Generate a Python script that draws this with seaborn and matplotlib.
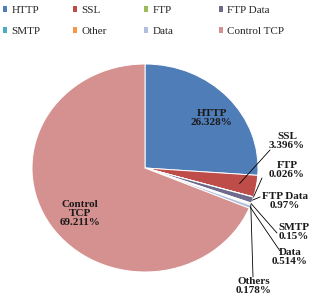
import numpy as np
import matplotlib
matplotlib.use("Agg")
import matplotlib.pyplot as plt
import seaborn as sns

sns.set_style("white")
plt.rcParams['font.family'] = ['Liberation Serif', 'DejaVu Serif']

# data
protocols = ["HTTP", "SSL", "FTP", "FTP Data", "SMTP", "Other", "Data", "Control TCP"]
shares = [26.328, 3.396, 0.026, 0.97, 0.15, 0.178, 0.514, 69.211]
share_text = ["26.328%", "3.396%", "0.026%", "0.97%", "0.15%", "0.178%", "0.514%", "69.211%"]
slice_names = ["HTTP", "SSL", "FTP", "FTP Data", "SMTP", "Others", "Data", "Control\nTCP"]
colors = sns.color_palette(["#4F7DB8", "#BE4C49", "#9BBB59", "#6F6A8C",
                            "#4BACC6", "#F79646", "#AFC0DF", "#D5918F"])

W, H = 321, 296
cx, cy, rx, ry = 145, 168, 113, 104   # pie centre / radii in pixels

fig = plt.figure(figsize=(W / 100, H / 100), dpi=100)
ax = fig.add_axes([0, 0, 1, 1])

wedges, _ = ax.pie(shares, colors=colors, startangle=90, counterclock=False,
                   wedgeprops=dict(edgecolor="white", linewidth=0.7))
ax.set_aspect("auto")
ax.set_xlim(-cx / rx, (W - cx) / rx)
ax.set_ylim(-(H - cy) / ry, cy / ry)
ax.axis("off")

def px(x, y):
    # pixel (from top-left) -> axes fraction
    return (x / W, 1 - y / H)

lab_font = dict(fontsize=8, fontweight="bold", color="#1a1a1a", ha="center", va="center")

# big slices: labels inside
ax.text(0.59, 0.48, slice_names[0] + "\n" + share_text[0], linespacing=1.0, **lab_font)
ax.text(-0.575, -0.44, slice_names[7] + "\n" + share_text[7], linespacing=1.0, **lab_font)

# small slices: labels outside with leader lines
outside = {1: ((287, 141), (270, 150), 0.85),
           2: ((287, 170), (262, 178), 1.0),
           3: ((285, 201), (260, 197), 1.0),
           4: ((294, 232), (277, 233), 1.0),
           6: ((290, 257), (280, 251), 1.0),
           5: ((254, 286), (253, 277), 1.0)}
for i, (tpos, lpos, r) in outside.items():
    w = wedges[i]
    mid = np.deg2rad((w.theta1 + w.theta2) / 2)
    xy = (r * np.cos(mid), r * np.sin(mid))
    ax.annotate("", xy=xy, xycoords="data", xytext=px(*lpos), textcoords="axes fraction",
                arrowprops=dict(arrowstyle="-", color="black", lw=0.6, shrinkA=0, shrinkB=0))
    ax.text(*px(*tpos), slice_names[i] + "\n" + share_text[i], transform=ax.transAxes,
            linespacing=1.05, **lab_font)

# legend: four fixed-width columns, two rows
col_x = [3, 73, 144, 219]
for c, x0 in enumerate(col_x):
    idx = [c, c + 4]
    leg = fig.legend([wedges[k] for k in idx], [protocols[k] for k in idx],
                     loc="upper left", bbox_to_anchor=(x0 / W, 1 - 6 / H),
                     frameon=False, fontsize=8, handlelength=0.4, handleheight=0.4,
                     handletextpad=0.35, labelspacing=1.05,
                     borderaxespad=0, borderpad=0)
    for h in leg.legend_handles:
        h.set_edgecolor("none")

fig.savefig("out.png", dpi=100)
